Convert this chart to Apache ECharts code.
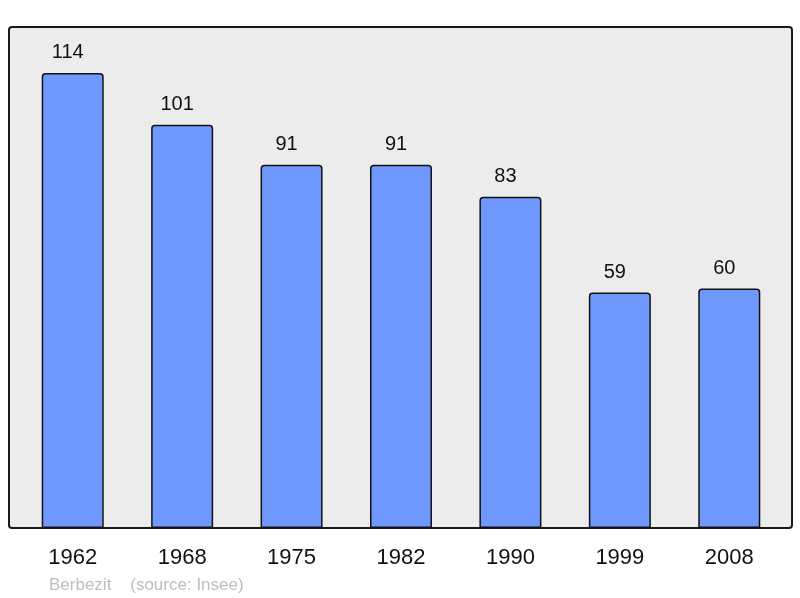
<!DOCTYPE html>
<html>
<head>
<meta charset="utf-8">
<script src="https://cdn.jsdelivr.net/npm/echarts@6/dist/echarts.min.js"></script>
<style>
  html, body { margin: 0; padding: 0; background: #fff; }
  #chart { width: 800px; height: 598px; }
</style>
</head>
<body>
<div id="chart"></div>
<script>
const years = ["1962", "1968", "1975", "1982", "1990", "1999", "2008"];
const population = [114, 101, 91, 91, 83, 59, 60];
const footer = "Berbezit    (source: Insee)";

const chart = echarts.init(document.getElementById("chart"), null, { renderer: "canvas" });

chart.setOption({
  animation: false,
  graphic: [
    {
      type: "rect",
      z: 0,
      shape: { x: 9, y: 27, width: 783, height: 501, r: 3 },
      style: { fill: "#ececec", stroke: "#1a1a1a", lineWidth: 2 },
    },
    {
      type: "text",
      left: 49,
      top: 577,
      style: { text: footer, fill: "#bdbdbd", font: "17px 'Liberation Sans', Arial, sans-serif" },
    },
  ],
  grid: { left: 18, right: 16, top: 27, bottom: 70 },
  xAxis: {
    type: "category",
    data: years,
    axisLine: { show: false },
    axisTick: { show: false },
    axisLabel: {
      color: "#111",
      fontSize: 22,
      fontFamily: "Liberation Sans, Arial, sans-serif",
      margin: 19,
    },
  },
  yAxis: {
    type: "value",
    min: 0,
    max: 125.5,
    show: false,
    splitLine: { show: false },
  },
  series: [
    {
      type: "bar",
      data: population,
      barWidth: 62,
      z: 2,
      itemStyle: {
        color: "#7099ff",
        borderColor: "#111",
        borderWidth: 1.5,
        borderRadius: [3, 3, 0, 0],
      },
      label: {
        show: true,
        position: "top",
        distance: 10,
        offset: [-5, 0],
        color: "#111",
        fontSize: 20,
        fontFamily: "Liberation Sans, Arial, sans-serif",
      },
    },
  ],
});
</script>
</body>
</html>
